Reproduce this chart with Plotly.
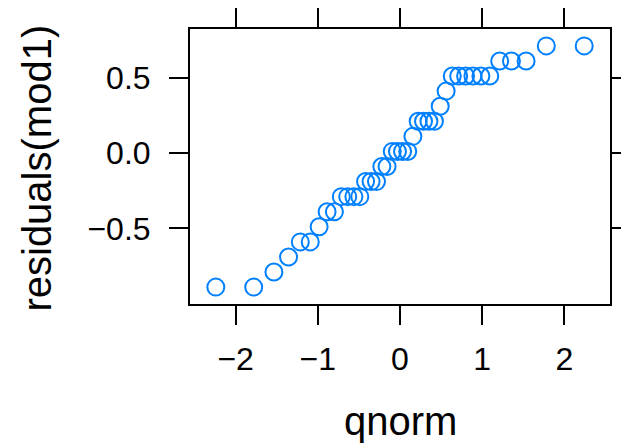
import plotly.graph_objects as go

# theoretical normal quantiles (x) and sorted residuals (y)
qnorm_x = [-2.241, -1.780, -1.534, -1.356, -1.213, -1.092, -0.984, -0.887, -0.798, -0.714,
           -0.636, -0.561, -0.489, -0.419, -0.352, -0.286, -0.221, -0.157, -0.094, -0.031,
           0.031, 0.094, 0.157, 0.221, 0.286, 0.352, 0.419, 0.489, 0.561, 0.636,
           0.714, 0.798, 0.887, 0.984, 1.092, 1.213, 1.356, 1.534, 1.780, 2.241]
residuals = [-0.89, -0.89, -0.79, -0.69, -0.59, -0.59, -0.49, -0.39, -0.39, -0.29,
             -0.29, -0.29, -0.29, -0.19, -0.19, -0.19, -0.09, -0.09, 0.01, 0.01,
             0.01, 0.01, 0.11, 0.21, 0.21, 0.21, 0.21, 0.31, 0.41, 0.51,
             0.51, 0.51, 0.51, 0.51, 0.51, 0.61, 0.61, 0.61, 0.71, 0.71]

x_ticks = [-2, -1, 0, 1, 2]
x_labels = ["\u22122", "\u22121", "0", "1", "2"]
y_ticks = [-0.5, 0.0, 0.5]
y_labels = ["\u22120.5", "0.0", "0.5"]

FONT = "Liberation Sans, Arial, Helvetica, sans-serif"

fig = go.Figure()
fig.add_trace(go.Scatter(
    x=qnorm_x, y=residuals, mode="markers",
    marker=dict(symbol="circle-open", size=17, color="#0080FF",
                line=dict(width=2, color="#0080FF")),
    hoverinfo="skip", showlegend=False))

axis_common = dict(showgrid=False, zeroline=False, showline=True, linewidth=2,
                   linecolor="black", mirror="ticks", ticks="outside", ticklen=19,
                   tickwidth=2, tickcolor="black", automargin=False,
                   tickfont=dict(family=FONT, size=32, color="black"))

fig.update_xaxes(range=[-2.555, 2.555], tickvals=x_ticks, ticktext=x_labels,
                 ticklabelstandoff=7, **axis_common)
fig.update_yaxes(range=[-1.002, 0.822], tickvals=y_ticks, ticktext=y_labels,
                 ticklabelstandoff=12, **axis_common)

fig.add_annotation(text="qnorm", xref="paper", yref="paper", x=0.5, y=-0.425,
                   xanchor="center", yanchor="middle", showarrow=False,
                   font=dict(family=FONT, size=40, color="black"))
fig.add_annotation(text="residuals(mod1)", xref="paper", yref="paper",
                   x=-0.365, y=0.495, xanchor="center", yanchor="middle",
                   textangle=-90, showarrow=False,
                   font=dict(family=FONT, size=40, color="black"))

fig.update_layout(width=621, height=447, margin=dict(l=190, r=11, t=29, b=143),
                  paper_bgcolor="white", plot_bgcolor="white")

fig.write_html("out.html")
